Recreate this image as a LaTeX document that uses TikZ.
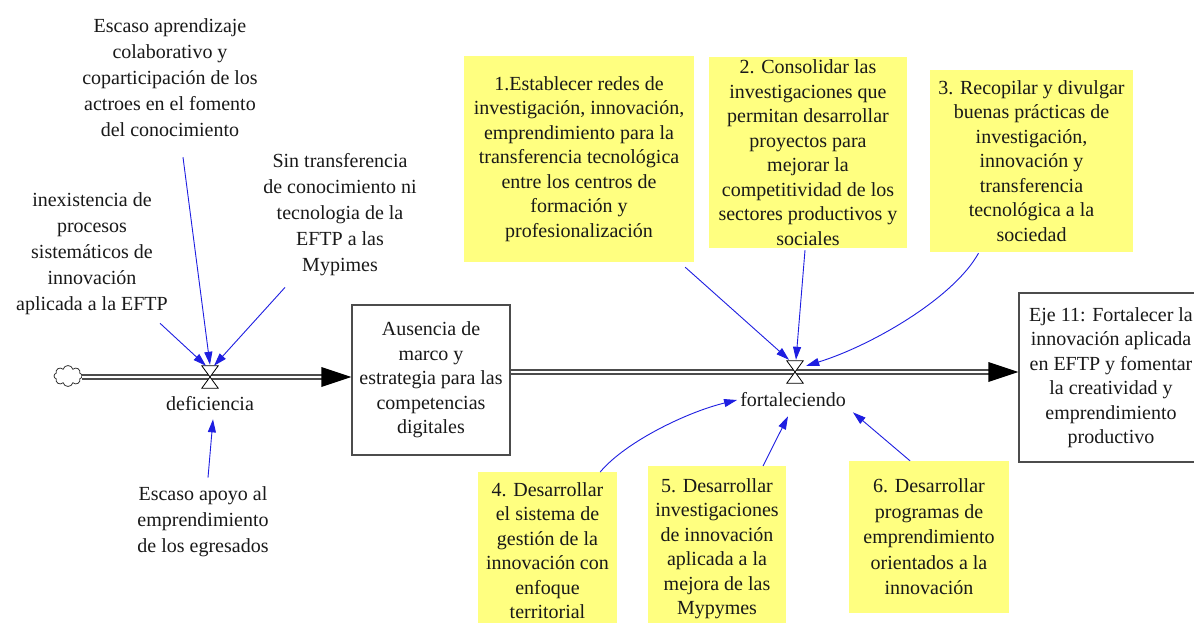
\documentclass[tikz,border=0pt]{standalone}
\usepackage{fontspec}
\setmainfont{Liberation Serif}
\usetikzlibrary{arrows.meta,calc,shapes.symbols}
\definecolor{notey}{RGB}{255,255,128}
\definecolor{linkblue}{RGB}{30,30,225}

\begin{document}
\begin{tikzpicture}[x=1pt, y=-1pt,
    every node/.style={font=\fontsize{20}{26}\selectfont, text=black!90},
    lbl/.style={align=center, inner sep=0pt},
    note/.style={fill=notey, align=center, inner sep=0pt, font=\fontsize{20}{24.5}\selectfont},
    stock/.style={draw=black!70, line width=1.2pt, align=center, inner sep=0pt,
                  font=\fontsize{20}{24.5}\selectfont},
    valve/.style={minimum width=16pt, minimum height=22pt, inner sep=0pt},
    pipe/.style={draw=black!70, line width=1.5pt, double=white, double distance=2.5pt},
    link/.style={-{Triangle[length=13pt,width=8pt]}, linkblue, line width=0.9pt},
]
\useasboundingbox (0,0) rectangle (1194,623);
\fill[white] (0,0) rectangle (1194,623);

% Source cloud and stocks
\node[draw=black!80, cloud, cloud puffs=8, minimum width=28pt, minimum height=21pt,
      inner sep=0pt, line width=0.8pt] (src) at (68,376) {};
\node[stock, minimum width=158pt, minimum height=150pt] (aus) at (431,380)
    {Ausencia de\\ marco y\\ estrategia para las\\ competencias\\ digitales};
\node[stock, minimum width=184pt, minimum height=169pt] (eje) at (1111,377.5)
    {Eje 11: Fortalecer la\\ innovación aplicada\\ en EFTP y fomentar\\ la creatividad y\\ emprendimiento\\ productivo};

% Valves and rate names
\node[valve] (v1) at (210,377) {};
\node[valve] (v2) at (795,372) {};
\node[inner sep=3pt] (def) at (210,404) {deficiencia};
\node[inner sep=3pt] (fort) at (793,400) {fortaleciendo};

% Flow pipes
\coordinate (in1) at (aus.west |- v1);
\coordinate (in2) at (eje.west |- v2);
\coordinate (out2) at (aus.east |- v2);
\draw[pipe] (src.east |- v1) -- ([xshift=-26pt]in1);
\draw[pipe] (out2) -- ([xshift=-26pt]in2);
\fill[black] (in1) -- ++(-30,-10) -- ++(0,20) -- cycle;
\fill[black] (in2) -- ++(-30,-10) -- ++(0,20) -- cycle;
\foreach \v in {v1,v2}
    \draw[black, line width=0.8pt, fill=white] (\v.north west) -- (\v.north east)
        -- (\v.south west) -- (\v.south east) -- cycle;

% Causes of deficiencia
\node[lbl] (esc1) at (170,78)
    {Escaso aprendizaje\\ colaborativo y\\ coparticipación de los\\ actroes en el fomento\\ del conocimiento};
\node[lbl] (inex) at (92,254)
    {inexistencia de\\ procesos\\ sistemáticos de\\ innovación\\ aplicada a la EFTP};
\node[lbl] (sin) at (340,215)
    {Sin transferencia\\ de conocimiento ni\\ tecnologia de la\\ EFTP a las\\ Mypimes};
\node[lbl] (apoyo) at (203,522)
    {Escaso apoyo al\\ emprendimiento\\ de los egresados};

\draw[link] ($(inex.south east)+(-8,8)$) -- ($(v1.north)+(-4,0)$);
\draw[link] ($(esc1.south)+(13,20)$) -- ($(v1.north)+(0,-1)$);
\draw[link] ($(sin.south)+(-55,11)$) -- ($(v1.north)+(4,0)$);
\draw[link] ($(apoyo.north)+(5,-9)$) -- ($(def.south)+(3,5)$);

% Strategy notes
\node[note, minimum width=230pt, minimum height=206pt] (n1) at (579,159)
    {1.Establecer redes de\\ investigación, innovación,\\ emprendimiento para la\\ transferencia tecnológica\\ entre los centros de\\ formación y\\ profesionalización};
\node[note, minimum width=198pt, minimum height=191pt] (n2) at (808,152.5)
    {2. Consolidar las\\ investigaciones que\\ permitan desarrollar\\ proyectos para\\ mejorar la\\ competitividad de los\\ sectores productivos y\\ sociales};
\node[note, minimum width=203pt, minimum height=182pt] (n3) at (1031.5,161)
    {3. Recopilar y divulgar\\ buenas prácticas de\\ investigación,\\ innovación y\\ transferencia\\ tecnológica a la\\ sociedad};
\node[note, minimum width=139pt, anchor=north, inner ysep=10pt, text depth=25pt] (n4) at (547.5,472)
    {4. Desarrollar\\ el sistema de\\ gestión de la\\ innovación con\\ enfoque\\ territorial};
\node[note, minimum width=138pt, anchor=north, inner ysep=12pt, text depth=25pt] (n5) at (717,466)
    {5. Desarrollar\\ investigaciones\\ de innovación\\ aplicada a la\\ mejora de las\\ Mypymes};
\node[note, minimum width=160pt, minimum height=152pt, font=\fontsize{20}{25.5}\selectfont] (n6) at (929,537)
    {6. Desarrollar\\ programas de\\ emprendimiento\\ orientados a la\\ innovación};

\draw[link] ($(n1.south east)+(-9,5)$) -- ($(v2.north)+(-6,-1)$);
\draw[link] ($(n2.south)+(-3,2)$) -- ($(v2.north)+(1,-1)$);
\draw[link] ($(n3.south)+(-53,1)$) .. controls +(-25,45) and +(65,-20) .. ($(v2.north east)+(3,5)$);
\draw[link] ($(n4.north east)+(-17,0)$) .. controls +(25,-30) and +(-50,12) .. (fort.west);
\draw[link] ($(n5.north)+(46,0)$) -- ($(fort.south)+(-5,6)$);
\draw[link] ($(n6.north)+(-19,0)$) -- ($(fort.south east)+(4,2)$);
\end{tikzpicture}
\end{document}
